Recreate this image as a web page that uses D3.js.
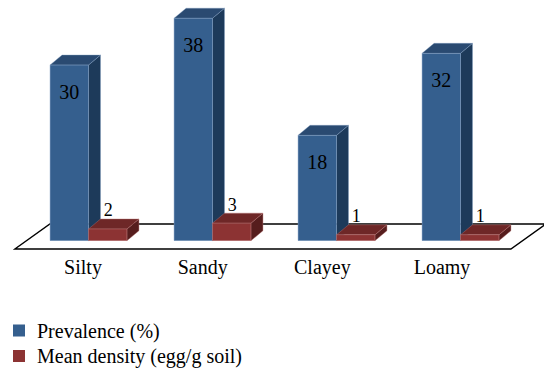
<!DOCTYPE html>
<html>
<head>
<meta charset="utf-8">
<script src="https://cdn.jsdelivr.net/npm/d3@7"></script>
<style>
  html, body { margin: 0; padding: 0; background: #fff; }
  svg { display: block; }
  text { font-family: "Liberation Serif", "Times New Roman", serif; fill: #000; }
</style>
</head>
<body>
<script>
// Soil type vs. prevalence and egg density
const categories = ["Silty", "Sandy", "Clayey", "Loamy"];
const seriesNames = ["Prevalence (%)", "Mean density (egg/g soil)"];
const prevalence = [30, 38, 18, 32];
const meanDensity = [2, 3, 1, 1];

const W = 544, H = 373;
const svg = d3.select("body").append("svg").attr("width", W).attr("height", H);

const seriesData = [prevalence, meanDensity];
const palette = [
  { front: "#355f8e", top: "#2a4a71", side: "#1d3a5a", edge: "#7f9cc0" },
  { front: "#8c3333", top: "#6e2727", side: "#561d1d", edge: "#b77272" }
];

// Scales
const x = d3.scaleBand().domain(categories).range([26.5, 522.5])
  .paddingInner(0.38).paddingOuter(0.19);
const xs = d3.scaleBand().domain(d3.range(seriesNames.length)).range([0, x.bandwidth()]);
const y = d3.scaleLinear().domain([0, 40]).range([240.7, 240.7 - 40 * 5.855]);
const labelX = d3.scalePoint().domain(categories).range([83, 442]);

// 3D depth offsets
const bar = { dx: 12, dy: -10 };
const floor = { front: { dx: -11.6, dy: 8.3 }, back: { dx: 23.4, dy: -16.7 } };

// Floor plane
const [r0, r1] = x.range();
const y0 = y(0);
const floorPts = [
  [r0 + floor.front.dx, y0 + floor.front.dy],
  [r1 + floor.front.dx, y0 + floor.front.dy],
  [r1 + floor.back.dx, y0 + floor.back.dy],
  [r0 + floor.back.dx, y0 + floor.back.dy]
];
svg.append("polygon")
  .attr("points", floorPts.map(p => p.join(",")).join(" "))
  .attr("fill", "#fff").attr("stroke", "#000").attr("stroke-width", 1.4)
  .attr("stroke-linejoin", "miter");

// Bars (drawn left to right so later boxes cover earlier side faces)
const boxes = [];
categories.forEach((c, i) => {
  seriesData.forEach((vals, s) => {
    boxes.push({ c, s, v: vals[i] });
  });
});

const g = svg.append("g");
boxes.forEach(d => {
  const x0 = x(d.c) + xs(d.s), x1 = x0 + xs.bandwidth();
  const yt = y(d.v), yb = y(0);
  const col = palette[d.s];
  const bg = g.append("g");
  // side face
  bg.append("polygon")
    .attr("points", [[x1, yt], [x1 + bar.dx, yt + bar.dy], [x1 + bar.dx, yb + bar.dy], [x1, yb]].map(p => p.join(",")).join(" "))
    .attr("fill", col.side).attr("stroke", col.edge).attr("stroke-width", 0.4);
  // top face
  bg.append("polygon")
    .attr("points", [[x0, yt], [x0 + bar.dx, yt + bar.dy], [x1 + bar.dx, yt + bar.dy], [x1, yt]].map(p => p.join(",")).join(" "))
    .attr("fill", col.top).attr("stroke", col.edge).attr("stroke-width", 0.4);
  // front face
  bg.append("rect")
    .attr("x", x0).attr("y", yt).attr("width", x1 - x0).attr("height", yb - yt)
    .attr("fill", col.front).attr("stroke", col.edge).attr("stroke-width", 0.5);
});

// Value labels
boxes.forEach(d => {
  const cx = x(d.c) + xs(d.s) + xs.bandwidth() / 2;
  if (d.s === 0) {
    svg.append("text").attr("x", cx).attr("y", y(d.v) + 34)
      .attr("text-anchor", "middle").attr("font-size", 20).text(d.v);
  } else {
    svg.append("text").attr("x", cx + 0.5).attr("y", y(d.v) - 12.5)
      .attr("text-anchor", "middle").attr("font-size", 18).text(d.v);
  }
});

// Category labels
svg.append("g").selectAll("text").data(categories).join("text")
  .attr("x", d => labelX(d)).attr("y", 273.5)
  .attr("text-anchor", "middle").attr("font-size", 20)
  .text(d => d);

// Legend
const legend = svg.append("g").selectAll("g").data(seriesNames).join("g")
  .attr("transform", (d, i) => `translate(13, ${337.5 + i * 25.5})`);
legend.append("rect").attr("x", 0).attr("y", -13).attr("width", 12).attr("height", 12)
  .attr("fill", (d, i) => palette[i].front);
legend.append("text").attr("x", 24).attr("y", 0).attr("font-size", 20).text(d => d);
</script>
</body>
</html>
